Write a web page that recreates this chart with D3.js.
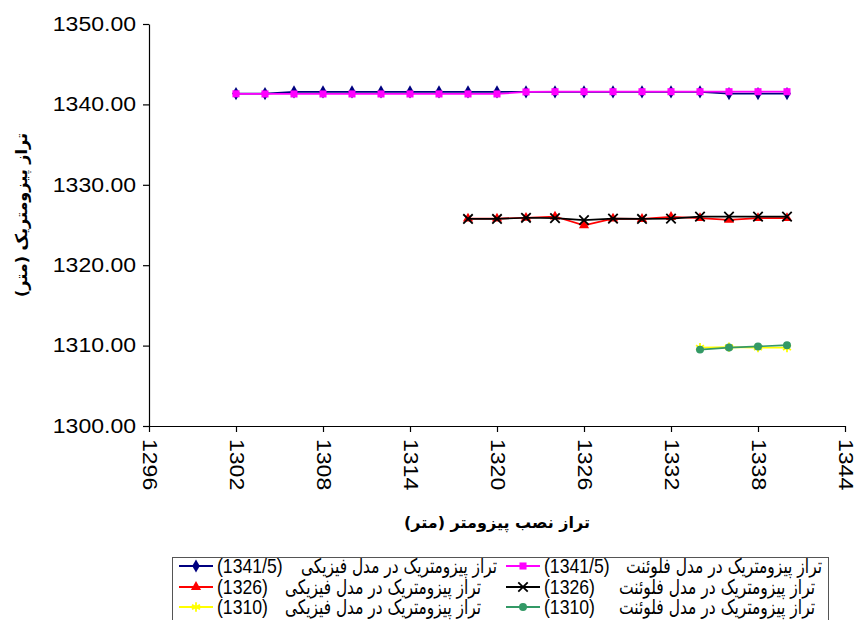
<!DOCTYPE html>
<html>
<head>
<meta charset="utf-8">
<script src="https://cdn.jsdelivr.net/npm/d3@7"></script>
<style>
  body { margin: 0; background: #fff; }
  svg { display: block; }
</style>
</head>
<body>
<script>
// x positions of the piezometers
const xTop = [1302, 1304, 1306, 1308, 1310, 1312, 1314, 1316, 1318, 1320,
              1322, 1324, 1326, 1328, 1330, 1332, 1334, 1336, 1338, 1340];
const xMid = [1318, 1320, 1322, 1324, 1326, 1328, 1330, 1332, 1334, 1336, 1338, 1340];
const xLow = [1334, 1336, 1338, 1340];

// piezometric levels
const phys1341 = [1341.35, 1341.35, 1341.55, 1341.55, 1341.55, 1341.55, 1341.55, 1341.55, 1341.55, 1341.55,
                  1341.55, 1341.55, 1341.55, 1341.55, 1341.55, 1341.55, 1341.55, 1341.35, 1341.35, 1341.35];
const flu1341  = [1341.32, 1341.3, 1341.3, 1341.3, 1341.3, 1341.3, 1341.3, 1341.3, 1341.3, 1341.3,
                  1341.55, 1341.58, 1341.58, 1341.58, 1341.58, 1341.58, 1341.58, 1341.58, 1341.58, 1341.58];
const phys1326 = [1325.8, 1325.8, 1325.9, 1326.05, 1324.95, 1325.8, 1325.75, 1326.0, 1325.85, 1325.65, 1325.85, 1325.85];
const flu1326  = [1325.75, 1325.75, 1325.9, 1325.85, 1325.6, 1325.8, 1325.75, 1325.8, 1326.05, 1326.05, 1326.05, 1326.05];
const phys1310 = [1309.75, 1309.8, 1309.75, 1309.75];
const flu1310  = [1309.5, 1309.75, 1309.9, 1310.05];

const xTicks = [1296, 1302, 1308, 1314, 1320, 1326, 1332, 1338, 1344];
const yTicks = [1300, 1310, 1320, 1330, 1340, 1350];

const seriesNames = ["تراز پیزومتریک در مدل فیزیکی", "تراز پیزومتریک در مدل فلوئنت",
                     "تراز پیزومتریک در مدل فیزیکی", "تراز پیزومتریک در مدل فلوئنت",
                     "تراز پیزومتریک در مدل فیزیکی", "تراز پیزومتریک در مدل فلوئنت"];
const seriesTags = ["(1341/5)", "(1341/5)", "(1326)", "(1326)", "(1310)", "(1310)"];

const xTitle = "تراز نصب پیزومتر (متر)";
const yTitle = "تراز پیزومتریک (متر)";

const series = [
  { x: xTop, y: phys1341, color: "#000080", sym: d3.symbolDiamond, size: 50, fill: true },
  { x: xTop, y: flu1341,  color: "#FF00FF", sym: d3.symbolSquare,  size: 50, fill: true },
  { x: xMid, y: phys1326, color: "#FF0000", sym: d3.symbolTriangle, size: 45, fill: true },
  { x: xMid, y: flu1326,  color: "#000000", sym: d3.symbolTimes,   size: 60, fill: false },
  { x: xLow, y: phys1310, color: "#FFFF00", sym: d3.symbolAsterisk, size: 60, fill: false },
  { x: xLow, y: flu1310,  color: "#339966", sym: d3.symbolCircle,  size: 50, fill: true }
];

const width = 855, height = 620;
const svg = d3.select("body").append("svg")
  .attr("width", width)
  .attr("height", height);

const x = d3.scaleLinear().domain([1296, 1344]).range([149, 845]);
const y = d3.scaleLinear().domain([1300, 1350]).range([426, 24]);

function stretch(sel, k) {
  sel.each(function () {
    const w = this.getComputedTextLength();
    d3.select(this).attr("textLength", w * k).attr("lengthAdjust", "spacingAndGlyphs");
  });
}

// y axis
const yAxis = svg.append("g")
  .attr("transform", `translate(${x(1296)},0)`)
  .call(d3.axisLeft(y).tickValues(yTicks).tickFormat(d3.format(".2f")).tickSize(6).tickSizeOuter(0).tickPadding(7));
yAxis.selectAll("text")
  .style("font", "19.5px 'Liberation Sans', Arial, sans-serif")
  .attr("fill", "#000")
  .call(stretch, 1.18);

// x axis
const xAxis = svg.append("g")
  .attr("transform", `translate(0,${y(1300)})`)
  .call(d3.axisBottom(x).tickValues(xTicks).tickFormat(d3.format("d")).tickSize(6).tickSizeOuter(0));
xAxis.selectAll("text")
  .style("font", "19.5px 'Liberation Sans', Arial, sans-serif")
  .attr("fill", "#000")
  .attr("transform", "rotate(90)")
  .attr("y", 0)
  .attr("x", 13)
  .attr("dy", "0.35em")
  .style("text-anchor", "start")
  .call(stretch, 1.18);

svg.selectAll(".domain, .tick line").attr("stroke", "#000").attr("stroke-width", 1.2);

// axis titles
svg.append("text")
  .attr("x", 497).attr("y", 528)
  .attr("text-anchor", "middle")
  .style("font", "bold 16px 'DejaVu Sans', sans-serif")
  .text(xTitle);

svg.append("text")
  .attr("transform", "translate(27,215) rotate(-90)")
  .attr("text-anchor", "middle")
  .style("font", "bold 16px 'DejaVu Sans', sans-serif")
  .text(yTitle);

// series
const line = d3.line().x(d => x(d[0])).y(d => y(d[1]));

series.forEach(s => {
  const pts = s.x.map((v, i) => [v, s.y[i]]);
  const g = svg.append("g");
  g.append("path")
    .datum(pts)
    .attr("d", line)
    .attr("fill", "none")
    .attr("stroke", s.color)
    .attr("stroke-width", 1.7);
  g.selectAll("path.mk")
    .data(pts)
    .enter().append("path")
    .attr("class", "mk")
    .attr("transform", d => `translate(${x(d[0])},${y(d[1])})`)
    .attr("d", d3.symbol().type(s.sym).size(s.size))
    .attr("fill", s.fill ? s.color : "none")
    .attr("stroke", s.color)
    .attr("stroke-width", s.fill ? 0 : 1.8);
});

// legend
const legend = svg.append("g");
legend.append("rect")
  .attr("x", 172.5).attr("y", 557.5)
  .attr("width", 656).attr("height", 80)
  .attr("fill", "#fff")
  .attr("stroke", "#555");

const colX = [179, 506];
const nameEnd = [[497, 481, 481], [822, 815, 815]];
const rowY = [566, 587, 607];

series.forEach((s, i) => {
  const col = i % 2, row = Math.floor(i / 2);
  const lx = colX[col], ly = rowY[row];
  const item = legend.append("g");
  item.append("line")
    .attr("x1", lx).attr("x2", lx + 34)
    .attr("y1", ly).attr("y2", ly)
    .attr("stroke", s.color).attr("stroke-width", 1.8);
  item.append("path")
    .attr("transform", `translate(${lx + 17},${ly})`)
    .attr("d", d3.symbol().type(s.sym).size(s.size))
    .attr("fill", s.fill ? s.color : "none")
    .attr("stroke", s.color)
    .attr("stroke-width", s.fill ? 0 : 1.8);
  item.append("text")
    .attr("x", lx + 38).attr("y", ly + 7)
    .style("font", "21px 'Liberation Sans', Arial, sans-serif")
    .text(seriesTags[i])
    .call(stretch, 0.84);
  item.append("text")
    .attr("x", nameEnd[col][row]).attr("y", ly + 7)
    .attr("text-anchor", "end")
    .style("font", "20px 'DejaVu Sans', sans-serif")
    .text(seriesNames[i])
    .each(function () {
      d3.select(this).attr("textLength", 196).attr("lengthAdjust", "spacingAndGlyphs");
    });
});
</script>
</body>
</html>
